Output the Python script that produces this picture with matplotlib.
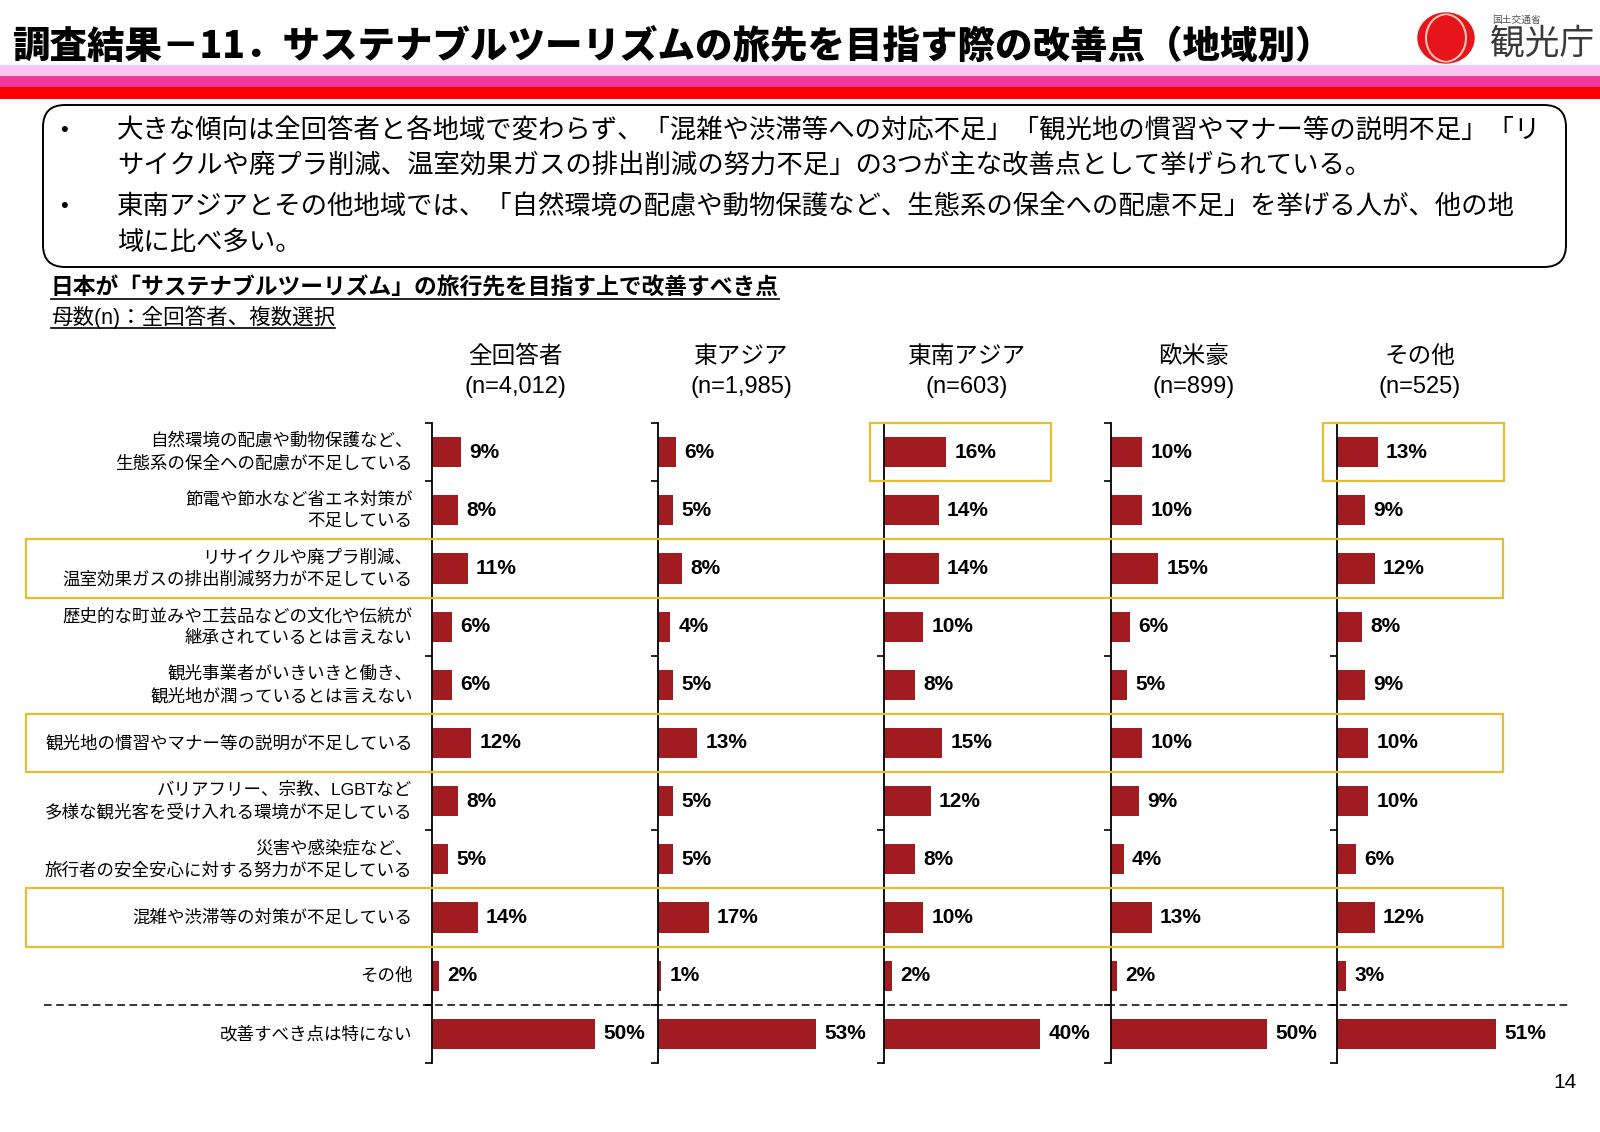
"""
Survey result 11: improvement points for sustainable tourism, by region.
"""

import matplotlib
matplotlib.use('Agg')
import matplotlib.pyplot as plt
import matplotlib.transforms as mtransforms
from matplotlib.patches import Rectangle, FancyBboxPatch, Ellipse
from matplotlib.lines import Line2D
import numpy as np

plt.rcParams['font.family'] = ['Liberation Sans', 'Noto Sans CJK JP']

# ---- data ----
categories = [
    '自然環境の配慮や動物保護など、\n生態系の保全への配慮が不足している',
    '節電や節水など省エネ対策が\n不足している',
    'リサイクルや廃プラ削減、\n温室効果ガスの排出削減努力が不足している',
    '歴史的な町並みや工芸品などの文化や伝統が\n継承されているとは言えない',
    '観光事業者がいきいきと働き、\n観光地が潤っているとは言えない',
    '観光地の慣習やマナー等の説明が不足している',
    'バリアフリー、宗教、LGBTなど\n多様な観光客を受け入れる環境が不足している',
    '災害や感染症など、\n旅行者の安全安心に対する努力が不足している',
    '混雑や渋滞等の対策が不足している',
    'その他',
    '改善すべき点は特にない',
]
regions = ['全回答者', '東アジア', '東南アジア', '欧米豪', 'その他']
region_n = ['(n=4,012)', '(n=1,985)', '(n=603)', '(n=899)', '(n=525)']

vals_all = [9, 8, 11, 6, 6, 12, 8, 5, 14, 2, 50]
vals_east_asia = [6, 5, 8, 4, 5, 13, 5, 5, 17, 1, 53]
vals_se_asia = [16, 14, 14, 10, 8, 15, 12, 8, 10, 2, 40]
vals_west = [10, 10, 15, 6, 5, 10, 9, 4, 13, 2, 50]
vals_other = [13, 9, 12, 8, 9, 10, 10, 6, 12, 3, 51]
series = [vals_all, vals_east_asia, vals_se_asia, vals_west, vals_other]

# each small chart was auto-scaled separately in the source
x_max = [61.5, 67.0, 51.3, 64.0, 64.0]

highlight_rows = [2, 5, 8]       # boxes across all regions
highlight_cells = [2, 4]         # region panels boxed on the first row

bullets = [
    '大きな傾向は全回答者と各地域で変わらず、「混雑や渋滞等への対応不足」「観光地の慣習やマナー等の説明不足」「リ',
    'サイクルや廃プラ削減、温室効果ガスの排出削減の努力不足」の3つが主な改善点として挙げられている。',
    '東南アジアとその他地域では、「自然環境の配慮や動物保護など、生態系の保全への配慮不足」を挙げる人が、他の地',
    '域に比べ多い。',
]

# ---- layout (pixels) ----
W, H = 1600, 1132
BAR_RED = '#A01C20'
GOLD = '#E5BE32'


def fx(x):
    return x / W


def fy(y):
    return 1 - y / H


fig = plt.figure(figsize=(W / 100, H / 100), dpi=100)

# title and colour bands
fig.text(fx(12), fy(47), '調査結果－11．サステナブルツーリズムの旅先を目指す際の改善点（地域別）',
         fontsize=27, fontweight='heavy', family='Noto Sans CJK JP',
         ha='left', va='center')
for y0, y1, c in [(65, 76, '#F9C6F1'), (76, 87, '#F0379A'), (87, 99, '#FF0000')]:
    fig.add_artist(Rectangle((0, fy(y1)), 1, (y1 - y0) / H, color=c,
                             transform=fig.transFigure, lw=0))

# logo
fig.add_artist(Ellipse((14.46, 10.94), 0.56, 0.50, color='#E8141B',
                       transform=fig.dpi_scale_trans))
fig.add_artist(Ellipse((14.46, 10.94), 0.40, 0.47, fill=False, ec='#F6C8B8',
                       lw=1.5, transform=fig.dpi_scale_trans))
fig.add_artist(Ellipse((14.46, 10.94), 0.30, 0.44, color='#E8141B',
                       transform=fig.dpi_scale_trans))
fig.text(fx(1492), fy(20), '国土交通省', fontsize=7, color='#555555', va='center')
fig.text(fx(1490), fy(44), '観光庁', fontsize=25, color='#3A3A3A', va='center')

# summary box
fig.add_artist(FancyBboxPatch((0.43, (H - 267) / 100), 15.23, 1.62,
                              boxstyle='round,pad=0,rounding_size=0.22',
                              transform=fig.dpi_scale_trans, fill=False,
                              ec='black', lw=1.4))
for line, y, bullet in zip(bullets, [131, 166, 207, 243], [True, False, True, False]):
    if bullet:
        fig.text(fx(60), fy(y), '•', fontsize=16, va='center')
    fig.text(fx(117), fy(y), line, fontsize=19, va='center')

sub1 = fig.text(fx(51), fy(288), '日本が「サステナブルツーリズム」の旅行先を目指す上で改善すべき点',
                fontsize=16.4, fontweight='bold', va='center')
sub2 = fig.text(fx(51), fy(317), '母数(n)：全回答者、複数選択', fontsize=15.5, va='center')

# ---- panels ----
axis_left = [432, 658, 884, 1111, 1337]
ax_w = 200
top, bottom = 423, 1063
n = len(categories)
y = np.arange(n)
axes = []

for i, (vals, xm) in enumerate(zip(series, x_max)):
    ax = fig.add_axes([fx(axis_left[i]), fy(bottom), ax_w / W, (bottom - top) / H])
    ax.barh(y, vals, height=0.52, color=BAR_RED)
    ax.set_ylim(n - 0.5, -0.5)
    ax.set_xlim(0, xm)
    for s in ['top', 'right', 'bottom']:
        ax.spines[s].set_visible(False)
    ax.spines['left'].set_linewidth(1.3)
    ax.set_yticks(np.arange(n + 1) - 0.5)
    ax.set_yticklabels([])
    ax.tick_params(axis='y', direction='out', length=5, width=1.2)
    ax.set_xticks([])
    ax.patch.set_visible(False)

    for yi, v in zip(y, vals):
        ax.annotate(f'{v}%', xy=(v, yi), xytext=(6, 0), textcoords='offset points',
                    ha='left', va='center', fontsize=15, fontweight='bold')

    ax.annotate(regions[i], xy=(0.415, 1), xycoords='axes fraction',
                xytext=(0, 66 * 0.72), textcoords='offset points',
                ha='center', va='center', fontsize=17)
    ax.annotate(region_n[i], xy=(0.415, 1), xycoords='axes fraction',
                xytext=(0, 36 * 0.72), textcoords='offset points',
                ha='center', va='center', fontsize=17)
    axes.append(ax)

# category labels
for yi, label in zip(y, categories):
    axes[0].annotate(label, xy=(0, yi), xycoords=('axes fraction', 'data'),
                     xytext=(-14, 0), textcoords='offset points',
                     ha='right', va='center', fontsize=12.6, linespacing=1.45,
                     multialignment='right')

# dashed separator above the last row
blend = mtransforms.blended_transform_factory(fig.transFigure, axes[0].transData)
fig.add_artist(Line2D([fx(44), fx(1568)], [n - 1.5, n - 1.5], transform=blend,
                      color='black', lw=1.1, ls=(0, (5, 3))))

# highlight boxes
for r in highlight_rows:
    fig.add_artist(Rectangle((fx(26), r - 0.5), fx(1503) - fx(26), 1, transform=blend,
                             fill=False, ec=GOLD, lw=1.6, zorder=5))
for p in highlight_cells:
    cb = mtransforms.blended_transform_factory(axes[p].transAxes, axes[p].transData)
    fig.add_artist(Rectangle((-0.07, -0.5), 0.905, 1, transform=cb,
                             fill=False, ec=GOLD, lw=1.6, zorder=5))

fig.text(fx(1577), fy(1082), '14', fontsize=15, ha='right', va='center')

# underline the two sub headings
fig.canvas.draw()
renderer = fig.canvas.get_renderer()
inv = fig.transFigure.inverted()
for t in [sub1, sub2]:
    bb = t.get_window_extent(renderer)
    (x0, y0), (x1, _) = inv.transform([(bb.x0, bb.y0 + 1), (bb.x1, bb.y0 + 1)])
    fig.add_artist(Line2D([x0, x1], [y0, y0], transform=fig.transFigure,
                          color='black', lw=1.2))

fig.savefig('out.png', dpi=100)
plt.close(fig)
